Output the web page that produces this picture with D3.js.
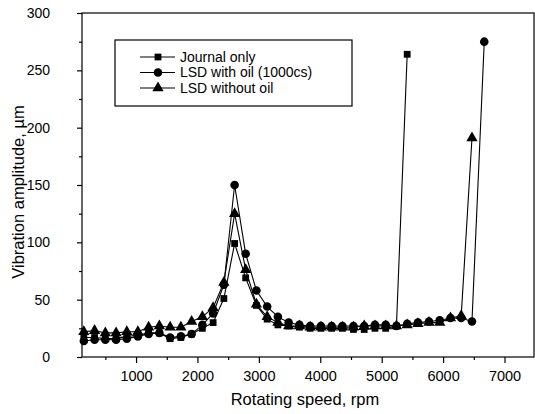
<!DOCTYPE html>
<html>
<head>
<meta charset="utf-8">
<script src="https://cdn.jsdelivr.net/npm/d3@7"></script>
<style>
  body { margin: 0; background: #fff; }
  svg { font-family: "Liberation Sans", Arial, sans-serif; }
</style>
</head>
<body>
<div class="canvas"></div>
<script>
/* vibration amplitude vs rotating speed */

// data
var journalSpeed = [150,325,500,675,850,1030,1205,1380,1555,1730,1905,2080,2255,2430,2605,2785,2960,3135,3310,3485,3660,3835,4010,4185,4360,4540,4715,4890,5065,5240,5415];
var journalAmp   = [17,17,16,16,18,19,21,21,16,17,20,25,30,51,99,69,45,33,28,27,26,25,25,25,25,24,24,25,25,27,264];

var oilSpeed = [150,325,500,675,850,1030,1205,1380,1555,1730,1905,2080,2255,2430,2605,2785,2960,3135,3310,3485,3660,3835,4010,4185,4360,4540,4715,4890,5065,5240,5415,5590,5770,5945,6120,6295,6470,6670];
var oilAmp   = [14,15,15,15,16,18,20,21,17,18,20,28,38,63,150,90,58,44,35,30,28,27,27,27,27,27,27,28,28,27,29,30,31,32,34,34,31,275];

var dryCount = 37;
var drySpeed = oilSpeed.slice(0, dryCount);
var dryAmp   = [22,23,21,21,22,22,26,27,26,26,31,35,43,65,125,76,46,35,30,27,27,26,26,26,26,26,27,27,27,27,28,29,30,30,34,36,191];

var seriesNames = ["Journal only", "LSD with oil (1000cs)", "LSD without oil"];
var xTicks = [1000,2000,3000,4000,5000,6000,7000];
var yTicks = [0,50,100,150,200,250,300];

var margin = {t:13, r:1, b:57, l:82};
var W = 535, H = 414;
var width = W - margin.l - margin.r,
    height = H - margin.t - margin.b;

var svg = d3.select('.canvas')
    .append('svg')
    .attr('width', W)
    .attr('height', H);

var canvas = svg.append('g')
    .attr('transform', 'translate(' + margin.l + ',' + margin.t + ')');

var x = d3.scaleLinear().domain([120, 7480]).range([0, width]);
var y = d3.scaleLinear().domain([0, 300]).range([height, 0]);

// frame
canvas.append('rect')
    .attr('width', width).attr('height', height)
    .style('fill', 'none').style('stroke', '#000').style('stroke-width', 1.2);

// x axis, major + minor
var xAxis = d3.axisBottom(x).tickValues(xTicks).tickSize(6).tickFormat(d3.format('d'));
var gx = canvas.append('g').attr('transform', 'translate(0,' + height + ')').call(xAxis);
canvas.append('g').attr('transform', 'translate(0,' + height + ')')
    .call(d3.axisBottom(x).tickValues(d3.range(500, 7500, 1000)).tickSize(3).tickFormat(''));

var yAxis = d3.axisLeft(y).tickValues(yTicks).tickSize(5);
var gy = canvas.append('g').call(yAxis);
canvas.append('g')
    .call(d3.axisLeft(y).tickValues(d3.range(25, 300, 50)).tickSize(3).tickFormat(''));

canvas.selectAll('.domain').remove();
canvas.selectAll('.tick line').style('stroke', '#000').style('stroke-width', 1.2);
gx.selectAll('text').style('font-size', '14.5px').attr('dy', '1.05em').style('fill', '#000');
gy.selectAll('text').style('font-size', '14px').attr('x', -32).style('fill', '#000');

// axis titles
svg.append('text')
    .attr('x', 305).attr('y', 405)
    .attr('text-anchor', 'middle')
    .style('font-size', '16.5px')
    .text('Rotating speed, rpm');

svg.append('text')
    .attr('transform', 'translate(24,192) rotate(-90)')
    .attr('text-anchor', 'middle')
    .style('font-size', '16.5px')
    .text('Vibration amplitude, \u00b5m');

// series
var series = [
    {name: seriesNames[0], xs: journalSpeed, ys: journalAmp, shape: d3.symbolSquare, size: 46},
    {name: seriesNames[1], xs: oilSpeed, ys: oilAmp, shape: d3.symbolCircle, size: 58},
    {name: seriesNames[2], xs: drySpeed, ys: dryAmp, shape: d3.symbolTriangle, size: 55}
];

var line = d3.line()
    .x(function(d){ return x(d[0]); })
    .y(function(d){ return y(d[1]); });

series.forEach(function(s){
    var pts = s.xs.map(function(v, i){ return [v, s.ys[i]]; });
    canvas.append('path')
        .datum(pts)
        .attr('d', line)
        .style('fill', 'none')
        .style('stroke', '#000')
        .style('stroke-width', 1.1);
    canvas.append('g').selectAll('path')
        .data(pts)
        .enter()
        .append('path')
        .attr('d', d3.symbol().type(s.shape).size(s.size))
        .attr('transform', function(d){ return 'translate(' + x(d[0]) + ',' + y(d[1]) + ')'; })
        .style('fill', '#000');
});

// legend
var lg = svg.append('g').attr('transform', 'translate(115,40)');
lg.append('rect')
    .attr('width', 237).attr('height', 66)
    .style('fill', '#fff').style('stroke', '#000').style('stroke-width', 1.2);

var row = lg.selectAll('.row')
    .data(series)
    .enter()
    .append('g')
    .attr('class', 'row')
    .attr('transform', function(d, i){ return 'translate(0,' + (17 + i * 15.5) + ')'; });
row.append('line')
    .attr('x1', 25).attr('x2', 60)
    .style('stroke', '#000').style('stroke-width', 1.1);
row.append('path')
    .attr('d', function(d){ return d3.symbol().type(d.shape).size(d.size)(); })
    .attr('transform', 'translate(43,0)')
    .style('fill', '#000');
row.append('text')
    .attr('x', 65).attr('dy', '0.35em')
    .style('font-size', '14px')
    .text(function(d){ return d.name; });
</script>
</body>
</html>
